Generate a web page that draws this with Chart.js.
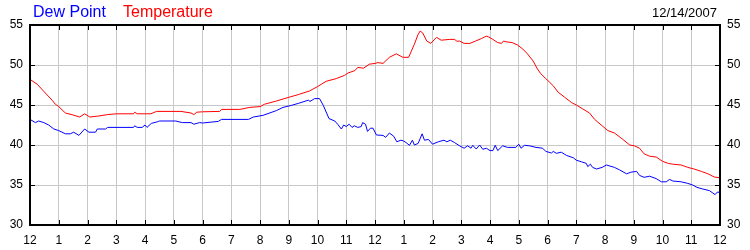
<!DOCTYPE html>
<html>
<head>
<meta charset="utf-8">
<script src="https://cdn.jsdelivr.net/npm/chart.js@4"></script>
<style>
  body { margin: 0; background: #fff; }
  #wrap { width: 750px; height: 250px; }
</style>
</head>
<body>
<div id="wrap"><canvas id="weather" width="750" height="250"></canvas></div>
<script>
'use strict';
// data (hours since midnight)
var seriesNames = ['Dew Point', 'Temperature'];
var dateLabel = '12/14/2007';
var hourLabels = ['12', '1', '2', '3', '4', '5', '6', '7', '8', '9', '10', '11',
  '12', '1', '2', '3', '4', '5', '6', '7', '8', '9', '10', '11', '12'];
var yTicks = [30, 35, 40, 45, 50, 55];

var dewHours = [0, 0.19, 0.3, 0.48, 0.65, 0.83, 1, 1.23, 1.4, 1.52, 1.7, 1.9, 2.05, 2.28, 2.34, 2.63, 2.7,
  3.6, 3.64, 3.73, 3.9, 4, 4.07, 4.22, 4.43, 4.5, 5.07, 5.3, 5.6, 5.7, 5.9, 6, 6.55, 6.66, 7.6, 7.77,
  8.1, 8.57, 8.8, 9.1, 9.33, 9.68, 9.74, 9.9, 10.07, 10.2, 10.4, 10.6, 10.7, 10.83, 10.91, 11, 11.1,
  11.2, 11.28, 11.4, 11.52, 11.57, 11.67, 11.74, 11.84, 11.93, 12.05, 12.28, 12.37, 12.5, 12.65,
  12.76, 12.9, 13, 13.08, 13.2, 13.3, 13.37, 13.5, 13.64, 13.72, 13.86, 14, 14.2, 14.4, 14.5, 14.62,
  14.77, 14.94, 15.1, 15.22, 15.34, 15.4, 15.52, 15.64, 15.75, 15.87, 16, 16.1, 16.18, 16.27, 16.44,
  16.61, 16.9, 17, 17.08, 17.2, 17.37, 17.6, 17.83, 17.94, 18.14, 18.2, 18.31, 18.48, 18.66, 18.9,
  19, 19.18, 19.35, 19.4, 19.49, 19.57, 19.7, 19.9, 20.05, 20.33, 20.5, 20.75, 20.9, 21.1, 21.2,
  21.36, 21.55, 21.78, 21.96, 22.13, 22.25, 22.36, 22.65, 22.88, 23.05, 23.2, 23.4, 23.63, 23.75,
  23.83, 23.9, 24];
var dewPoint = [43.2, 42.8, 43.0, 42.8, 42.5, 42.0, 41.8, 41.4, 41.4, 41.6, 41.2, 42.0, 41.6, 41.6, 42.0, 42.0, 42.2,
  42.2, 42.4, 42.2, 42.2, 42.5, 42.2, 42.7, 42.9, 43.0, 43.0, 42.8, 42.8, 42.6, 42.8, 42.75, 42.95, 43.2, 43.2, 43.5,
  43.7, 44.3, 44.7, 44.96, 45.2, 45.6, 45.45, 45.8, 45.8, 44.96, 43.3, 43.0, 42.6, 42.0, 42.5, 42.3, 42.6,
  42.2, 42.4, 42.2, 42.3, 42.8, 42.6, 41.7, 42.1, 42.1, 41.25, 41.2, 40.96, 41.5, 41.1,
  40.4, 40.6, 40.5, 40.3, 39.96, 40.6, 40.0, 40.2, 41.4, 40.6, 40.7, 40.1, 40.4, 40.6, 40.4, 40.6,
  40.3, 39.9, 39.6, 39.9, 39.6, 39.96, 39.5, 40.0, 39.46, 39.6, 39.3, 39.3, 39.96, 39.3, 39.9,
  39.7, 39.7, 40.1, 39.6, 39.96, 39.9, 39.7, 39.6, 39.2, 39.0, 39.2, 38.96, 39.1, 38.7, 38.4,
  38.1, 37.9, 37.7, 37.3, 37.6, 37.2, 37.0, 37.2, 37.5, 37.2, 36.9, 36.4, 36.6, 36.7, 36.2,
  35.96, 36.1, 35.8, 35.4, 35.4, 35.7, 35.5, 35.4, 35.2, 35.0, 34.7, 34.5, 34.3, 34.0,
  33.8, 34.1, 34.1];

var tempHours = [0, 0.25, 0.48, 0.77, 0.88, 1, 1.23, 1.5, 1.73, 1.9, 2.08, 2.34, 2.7, 3, 3.6, 3.64, 3.73,
  4.2, 4.4, 5.25, 5.6, 5.7, 5.8, 6, 6.6, 6.66, 7.3, 7.64, 8, 8.16, 8.57, 9, 9.33, 9.72, 10, 10.3, 10.65,
  10.94, 11.06, 11.3, 11.4, 11.6, 11.8, 12, 12.1, 12.28, 12.5, 12.74, 12.97, 13.17, 13.37, 13.49,
  13.57, 13.66, 13.8, 13.94, 14.14, 14.3, 14.6, 14.77, 14.85, 14.94, 15.1, 15.3, 15.5, 15.7, 15.87,
  15.96, 16.1, 16.27, 16.4, 16.47, 16.56, 16.77, 16.96, 17.14, 17.3, 17.5, 17.65, 17.77, 17.94,
  18.06, 18.2, 18.37, 18.6, 18.84, 19, 19.23, 19.46, 19.64, 19.87, 20.1, 20.33, 20.62, 20.86,
  21.02, 21.2, 21.36, 21.55, 21.78, 22, 22.2, 22.36, 22.65, 22.88, 23.1, 23.35, 23.58, 23.8, 24];
var temperature = [48.2, 47.6, 46.7, 45.6, 45.1, 44.8, 44.0, 43.75, 43.5, 43.9, 43.5, 43.6, 43.8, 43.9, 43.9, 44.1, 43.9,
  43.9, 44.2, 44.2, 44.0, 43.8, 44.1, 44.15, 44.2, 44.45, 44.45, 44.7, 44.8, 45.1, 45.5, 45.96, 46.3, 46.75, 47.3, 47.96, 48.3,
  48.7, 49.0, 49.3, 49.7, 49.6, 50.1, 50.2, 50.3, 50.2, 50.96, 51.4, 50.96, 50.96, 52.6, 53.75,
  54.25, 54.0, 53.0, 52.7, 53.46, 53.1, 53.2, 53.2, 52.96, 53.0, 52.7, 52.7, 53.0, 53.3, 53.6,
  53.5, 53.2, 52.8, 52.7, 53.0, 52.9, 52.8, 52.5, 52.0, 51.4, 50.5, 49.5, 48.9, 48.3,
  47.9, 47.4, 46.6, 45.96, 45.3, 45.0, 44.5, 44.0, 43.2, 42.5, 41.8, 41.5, 40.7, 40.0,
  39.9, 39.6, 38.9, 38.6, 38.5, 37.96, 37.7, 37.6, 37.5, 37.2, 37.0, 36.7, 36.4, 36.0, 35.9];

var lineColors = ['#0000ff', '#ff0000'];
var fontName = '"Liberation Sans", Arial, sans-serif';

function toPoints(xs, ys) {
  return xs.map(function (h, i) { return { x: h, y: ys[i] }; });
}

// header text: colored series names on the left, date on the right
var headerPlugin = {
  id: 'header',
  afterDraw: function (chart) {
    var ctx = chart.ctx;
    ctx.save();
    ctx.textBaseline = 'alphabetic';
    ctx.font = '16px ' + fontName;
    ctx.textAlign = 'left';
    ctx.fillStyle = lineColors[0];
    ctx.fillText(seriesNames[0], 33, 17);
    ctx.fillStyle = lineColors[1];
    ctx.fillText(seriesNames[1], 123, 17);
    ctx.font = '13px ' + fontName;
    ctx.textAlign = 'right';
    ctx.fillStyle = '#000';
    ctx.fillText(dateLabel, 717, 17);
    ctx.restore();
  }
};

// black frame with short inward tick marks
var framePlugin = {
  id: 'frame',
  afterDraw: function (chart) {
    var ctx = chart.ctx;
    var a = chart.chartArea;
    var xs = chart.scales.x;
    var ys = chart.scales.y;
    ctx.save();
    ctx.strokeStyle = '#000';
    ctx.lineWidth = 1;
    ctx.beginPath();
    for (var i = 0; i < hourLabels.length; i++) {
      var px = Math.round(xs.getPixelForValue(i)) + 0.5;
      ctx.moveTo(px, a.top);
      ctx.lineTo(px, a.top + 5);
      ctx.moveTo(px, a.bottom);
      ctx.lineTo(px, a.bottom - 5);
    }
    for (var j = 0; j < yTicks.length; j++) {
      var py = Math.round(ys.getPixelForValue(yTicks[j])) + 0.5;
      ctx.moveTo(a.left, py);
      ctx.lineTo(a.left + 5, py);
      ctx.moveTo(a.right, py);
      ctx.lineTo(a.right - 5, py);
    }
    ctx.stroke();
    ctx.lineWidth = 2;
    ctx.strokeRect(a.left, a.top, a.right - a.left, a.bottom - a.top);
    ctx.restore();
  }
};

var yTickOpts = {
  stepSize: 5,
  color: '#000',
  padding: 7,
  font: { family: fontName, size: 12 }
};

var chart = new Chart(document.getElementById('weather').getContext('2d'), {
  type: 'line',
  data: {
    datasets: [
      {
        label: seriesNames[0],
        data: toPoints(dewHours, dewPoint),
        borderColor: lineColors[0],
        borderWidth: 1,
        pointRadius: 0,
        tension: 0
      },
      {
        label: seriesNames[1],
        data: toPoints(tempHours, temperature),
        borderColor: lineColors[1],
        borderWidth: 1,
        pointRadius: 0,
        tension: 0
      }
    ]
  },
  options: {
    responsive: false,
    animation: false,
    layout: { padding: { top: 25, left: 0, right: 0, bottom: 0 } },
    plugins: {
      legend: { display: false },
      tooltip: { enabled: false }
    },
    scales: {
      x: {
        type: 'linear',
        min: 0,
        max: 24,
        border: { display: false },
        grid: { color: '#c8c8c8', drawTicks: false },
        ticks: {
          stepSize: 1,
          autoSkip: false,
          maxRotation: 0,
          color: '#000',
          padding: 8,
          font: { family: fontName, size: 12 },
          callback: function (v) { return hourLabels[v]; }
        },
        afterFit: function (scale) { scale.height = 25; }
      },
      y: {
        position: 'left',
        min: 30,
        max: 55,
        border: { display: false },
        grid: { color: '#c8c8c8', drawTicks: false },
        ticks: yTickOpts,
        afterFit: function (scale) { scale.width = 30; }
      },
      y2: {
        position: 'right',
        min: 30,
        max: 55,
        border: { display: false },
        grid: { display: false, drawTicks: false },
        ticks: yTickOpts,
        afterFit: function (scale) { scale.width = 30; }
      }
    }
  },
  plugins: [headerPlugin, framePlugin]
});
</script>
</body>
</html>
